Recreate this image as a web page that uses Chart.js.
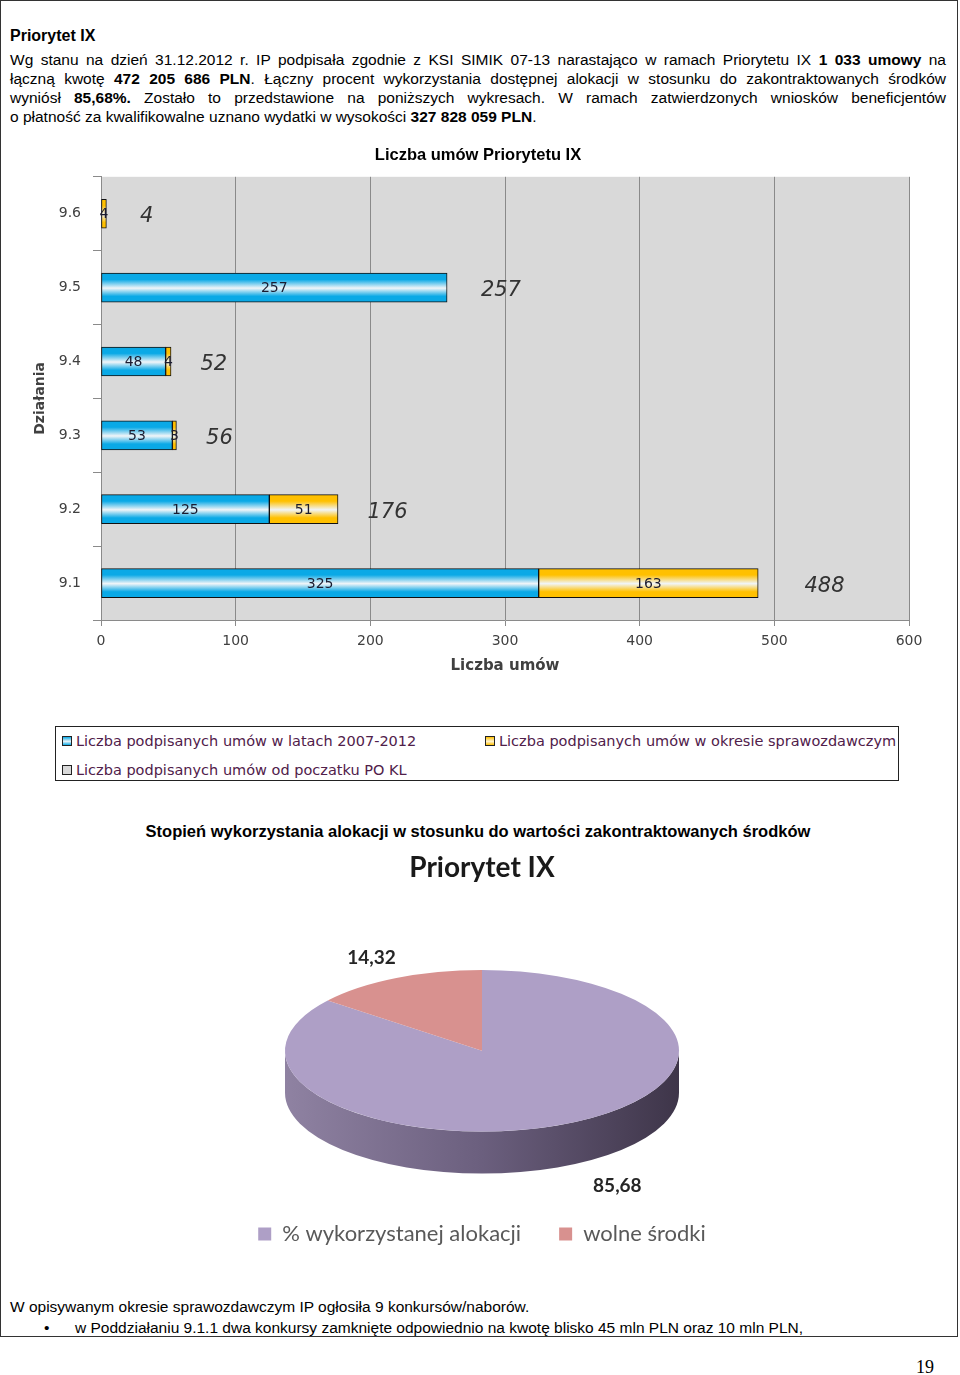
<!DOCTYPE html>
<html lang="pl">
<head>
<meta charset="utf-8">
<title>Priorytet IX</title>
<script src="https://cdn.jsdelivr.net/npm/chart.js@4.4.1/dist/chart.umd.min.js"></script>
<style>
  body { margin: 0; background: #fff; width: 960px; height: 1375px; position: relative; font-family: "Liberation Sans", Arial, sans-serif; color: #000; }
  .frame { position: absolute; left: 0; top: 0; width: 956px; height: 1335px; border: 1px solid #333; box-sizing: content-box; }
  .txt { position: absolute; left: 10px; width: 936px; font-size: 15.5px; line-height: 19px; }
  .ln { text-align: justify; text-align-last: justify; white-space: normal; }
  .ln.last { text-align-last: left; }
  .hdr { position: absolute; left: 10px; top: 26px; font-size: 16px; font-weight: bold; line-height: 19px; }
  #barWrap { position: absolute; left: 0; top: 140px; }
  #pieWrap { position: absolute; left: 0; top: 840px; }
  .legendBox { position: absolute; left: 55px; top: 726px; width: 842px; height: 53px; border: 1px solid #222; overflow: hidden; font-family: "DejaVu Sans", sans-serif; font-size: 14.5px; color: #50204a; }
  .legItem { position: absolute; white-space: nowrap; line-height: 17px; }
  .legItem i { display: inline-block; width: 8px; height: 8px; border: 1px solid #222; margin-right: 4px; vertical-align: 0px; }
  .pieTitle { position: absolute; left: 0; width: 956px; top: 822px; text-align: center; font-weight: bold; font-size: 16.5px; line-height: 19px; }
  .pageNo { position: absolute; left: 916px; top: 1357px; font-family: "Liberation Serif", serif; font-size: 18px; }
</style>
</head>
<body>
<div class="frame"></div>
<div class="hdr">Priorytet IX</div>
<div class="txt" style="top:50px">
  <div class="ln">Wg stanu na dzień 31.12.2012 r. IP podpisała zgodnie z KSI SIMIK 07-13 narastająco w ramach Priorytetu IX <b>1 033 umowy</b> na</div>
  <div class="ln">łączną kwotę <b>472 205 686 PLN</b>. Łączny procent wykorzystania dostępnej alokacji w stosunku do zakontraktowanych środków</div>
  <div class="ln">wyniósł <b>85,68%.</b> Zostało to przedstawione na poniższych wykresach. W ramach zatwierdzonych wniosków beneficjentów</div>
  <div class="ln last">o płatność za kwalifikowalne uznano wydatki w wysokości <b>327 828 059 PLN</b>.</div>
</div>

<div id="barWrap"><canvas id="barChart" width="960" height="550"></canvas></div>
<div class="legendBox" id="barLegend"></div>

<div class="pieTitle">Stopień wykorzystania alokacji w stosunku do wartości zakontraktowanych środków</div>
<div id="pieWrap"><canvas id="pieChart" width="960" height="420"></canvas></div>

<div class="txt" style="top:1297px">W opisywanym okresie sprawozdawczym IP ogłosiła 9 konkursów/naborów.</div>
<div class="txt" style="top:1318px; left:44px">•</div>
<div class="txt" style="top:1318px; left:75px; width:870px">w Poddziałaniu 9.1.1 dwa konkursy zamknięte odpowiednio na kwotę blisko 45 mln PLN oraz 10 mln PLN,</div>
<div class="pageNo">19</div>

<script>
// dane - wykres słupkowy
const dzialania = ['9.6', '9.5', '9.4', '9.3', '9.2', '9.1'];
const umowyLata = [0, 257, 48, 53, 125, 325];
const umowyOkres = [4, 0, 4, 3, 51, 163];
const umowyOdPoczatku = [4, 257, 52, 56, 176, 488];
const seriesNames = [
    'Liczba podpisanych umów w latach 2007-2012',
    'Liczba podpisanych umów w okresie sprawozdawczym',
    'Liczba podpisanych umów od poczatku PO KL'
];
const xMin = 0, xMax = 600, xStep = 100;

// dane - wykres kołowy
const pieLabels = ['% wykorzystanej alokacji', 'wolne środki'];
const pieValues = [85.68, 14.32];

const BLUE = '#0aa9e6';
const YELLOW = '#ffc000';
const GREY = '#d9d9d9';
const BAR_H = 29;

function bandFill(base) {
    return function(c) {
        const chart = c.chart;
        const ys = chart.scales && chart.scales.y;
        if (c.type !== 'data' || !ys) return base;
        const cy = ys.getPixelForValue(c.dataIndex);
        if (!isFinite(cy)) return base;
        const g = chart.ctx.createLinearGradient(0, cy - BAR_H / 2, 0, cy + BAR_H / 2);
        g.addColorStop(0, base);
        g.addColorStop(0.22, base);
        g.addColorStop(0.52, '#f1f5f8');
        g.addColorStop(0.8, base);
        g.addColorStop(1, base);
        return g;
    };
}

// tło obszaru wykresu
const plotBg = {
    id: 'plotBg',
    beforeDraw(chart) {
        const a = chart.chartArea, ctx = chart.ctx;
        ctx.save();
        ctx.fillStyle = GREY;
        ctx.fillRect(a.left, a.top, a.right - a.left, a.bottom - a.top);
        ctx.restore();
    }
};

// etykiety wartości + sumy
const barLabels = {
    id: 'barLabels',
    afterDatasetsDraw(chart) {
        const ctx = chart.ctx;
        ctx.save();
        ctx.textAlign = 'center';
        ctx.textBaseline = 'middle';
        ctx.fillStyle = '#1c1c30';
        ctx.font = '14px "DejaVu Sans"';
        chart.data.datasets.forEach((ds, i) => {
            chart.getDatasetMeta(i).data.forEach((bar, j) => {
                if (!ds.data[j]) return;
                ctx.fillText(String(ds.data[j]), (bar.x + bar.base) / 2, bar.y + 1);
            });
        });
        const xs = chart.scales.x, ys = chart.scales.y;
        ctx.font = 'italic 21px "DejaVu Sans"';
        ctx.fillStyle = '#333';
        const x0 = xs.getPixelForValue(0);
        umowyOdPoczatku.forEach((v, j) => {
            const end = xs.getPixelForValue(v);
            ctx.fillText(String(v), end + 40 + 0.04 * (end - x0), ys.getPixelForValue(j) + 3);
        });
        ctx.restore();
    }
};

const barChart = new Chart(document.getElementById('barChart'), {
    type: 'bar',
    data: {
        labels: dzialania,
        datasets: [
            { label: seriesNames[0], data: umowyLata, backgroundColor: bandFill(BLUE) },
            { label: seriesNames[1], data: umowyOkres, backgroundColor: bandFill(YELLOW) }
        ]
    },
    options: {
        indexAxis: 'y',
        responsive: false,
        animation: false,
        layout: { padding: { left: 47, right: 51, top: 0, bottom: 0 } },
        datasets: {
            bar: { barThickness: BAR_H, borderColor: '#111', borderWidth: 1, borderSkipped: false }
        },
        scales: {
            x: {
                stacked: true,
                min: xMin, max: xMax,
                ticks: { stepSize: xStep, color: '#404040', font: { family: 'DejaVu Sans', size: 14 }, padding: 7 },
                grid: { color: '#8a8a8a', tickLength: 6 },
                border: { color: '#8a8a8a' },
                title: { display: true, text: 'Liczba umów', color: '#404040', font: { family: 'DejaVu Sans', size: 15, weight: 'bold' }, padding: { top: 4, bottom: 15 } },
                afterFit(s) { s.height = 70; }
            },
            y: {
                stacked: true,
                ticks: { color: '#404040', font: { family: 'DejaVu Sans', size: 14 }, padding: 12 },
                grid: { drawOnChartArea: false, offset: true, color: '#8a8a8a', tickLength: 8 },
                border: { color: '#8a8a8a' },
                title: { display: true, text: 'Działania', color: '#404040', font: { family: 'DejaVu Sans', size: 14, weight: 'bold' }, padding: { top: -15.4, bottom: 0 } },
                afterFit(s) { s.width = 54; }
            }
        },
        plugins: {
            legend: { display: false },
            tooltip: { enabled: false },
            title: {
                display: true,
                text: 'Liczba umów Priorytetu IX',
                color: '#000',
                font: { family: 'Liberation Sans', size: 16.5, weight: 'bold' },
                padding: { top: 6, bottom: 11 }
            }
        }
    },
    plugins: [plotBg, barLabels]
});
// drugi przebieg, gdy skale mają już piksele
barChart.update('none');

// legenda wykresu słupkowego
const legendFills = [
    'linear-gradient(#0aa9e6, #e8f3f8 55%, #0aa9e6)',
    'linear-gradient(#ffc000, #fff3d0 55%, #ffc000)',
    GREY
];
const legendPos = [[6, 6], [429, 6], [6, 35]];
const legBox = document.getElementById('barLegend');
seriesNames.forEach((name, i) => {
    const d = document.createElement('div');
    d.className = 'legItem';
    d.style.left = legendPos[i][0] + 'px';
    d.style.top = legendPos[i][1] + 'px';
    const sw = document.createElement('i');
    sw.style.background = legendFills[i];
    d.appendChild(sw);
    d.appendChild(document.createTextNode(name));
    legBox.appendChild(d);
});

// wykres kołowy 3D
const PIE_R = 197;
const TILT = 0.41;
const DEPTH = 42;

const pie3d = {
    id: 'pie3d',
    beforeDatasetsDraw(chart) {
        const arc = chart.getDatasetMeta(0).data[0];
        if (!arc) return;
        const ctx = chart.ctx, cx = arc.x, cy = arc.y, r = arc.outerRadius;
        ctx.save();
        const g = ctx.createLinearGradient(cx - r, 0, cx + r, 0);
        g.addColorStop(0, '#8f82a2');
        g.addColorStop(0.5, '#6b5f7e');
        g.addColorStop(1, '#3e3549');
        ctx.fillStyle = g;
        ctx.beginPath();
        ctx.ellipse(cx, cy, r, r * TILT, 0, 0, Math.PI, false);
        ctx.lineTo(cx - r, cy + DEPTH);
        ctx.ellipse(cx, cy + DEPTH, r, r * TILT, 0, Math.PI, 0, true);
        ctx.closePath();
        ctx.fill();
        ctx.restore();
        ctx.save();
        ctx.translate(cx, cy);
        ctx.scale(1, TILT);
        ctx.translate(-cx, -cy);
    },
    afterDatasetsDraw(chart) {
        chart.ctx.restore();
        const ctx = chart.ctx;
        ctx.save();
        ctx.font = 'bold 19px Lato';
        ctx.fillStyle = '#262626';
        ctx.textAlign = 'center';
        ctx.textBaseline = 'middle';
        chart.getDatasetMeta(0).data.forEach((a, i) => {
            const mid = (a.startAngle + a.endAngle) / 2;
            const s = Math.sin(mid), c = Math.cos(mid);
            const fx = s > 0 ? 1.58 : 1.29;
            const x = a.x + c * a.outerRadius * fx;
            const y = a.y + s * a.outerRadius * TILT * 1.28 + (s > 0 ? DEPTH : 0);
            ctx.fillText(pieValues[i].toFixed(2).replace('.', ','), x, y);
        });
        ctx.restore();
    }
};

new Chart(document.getElementById('pieChart'), {
    type: 'pie',
    data: {
        labels: pieLabels,
        datasets: [{
            data: pieValues,
            backgroundColor: ['#ae9fc6', '#d8918f'],
            borderWidth: 0,
            radius: PIE_R
        }]
    },
    options: {
        responsive: false,
        animation: false,
        layout: { padding: { left: 4, bottom: 5 } },
        plugins: {
            tooltip: { enabled: false },
            title: {
                display: true,
                text: 'Priorytet IX',
                color: '#1a1a1a',
                font: { family: 'Lato', size: 28, weight: 'bold' },
                padding: { top: 11, bottom: 32 }
            },
            legend: {
                position: 'bottom',
                labels: {
                    boxWidth: 13,
                    boxHeight: 13,
                    padding: 38,
                    color: '#595959',
                    font: { family: 'Lato', size: 22 }
                }
            }
        }
    },
    plugins: [pie3d]
});
</script>
</body>
</html>
